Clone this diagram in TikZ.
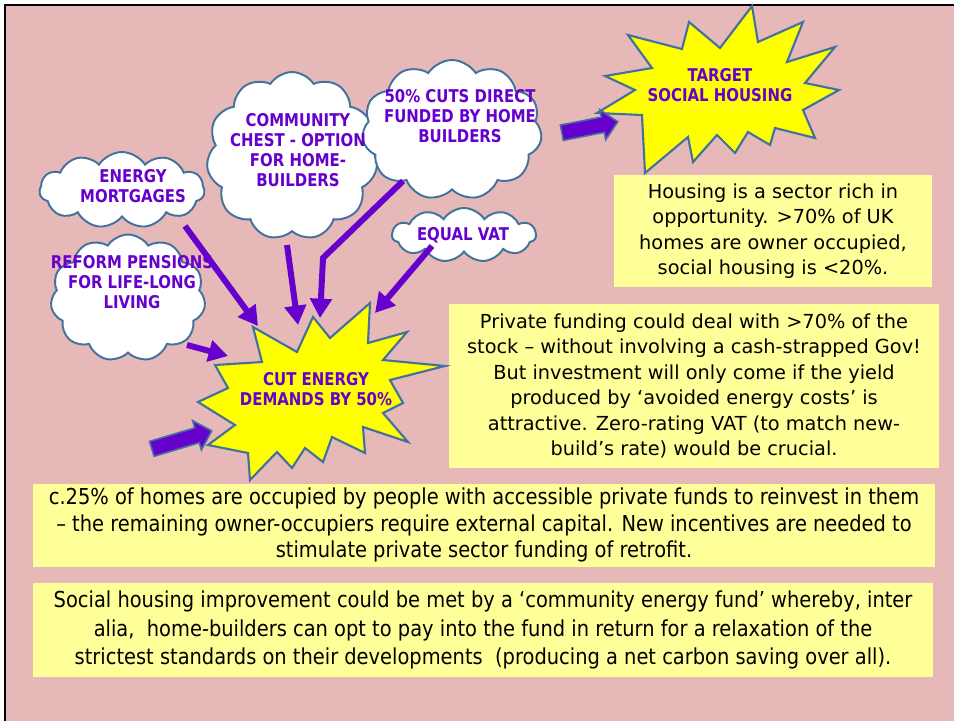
\documentclass[tikz,border=0pt]{standalone}
\usepackage{fontspec}
\setmainfont{DejaVu Sans}
\newfontfamily\cloudfont[FakeStretch=0.85]{DejaVu Sans}
\newfontfamily\narrowfont[FakeStretch=0.885]{DejaVu Sans}
\usetikzlibrary{shapes.symbols,shapes.arrows,arrows.meta}

\definecolor{bgpink}{HTML}{E6B8B7}
\definecolor{notebg}{HTML}{FFFF99}
\definecolor{burst}{HTML}{FFFF00}
\definecolor{edgeblue}{HTML}{41719C}
\definecolor{ideapurple}{HTML}{6600CC}

\tikzset{
  idea/.style={cloud, cloud puffs=11, cloud puff arc=115, cloud ignores aspect,
    draw=edgeblue, fill=white, line width=1.1pt, inner sep=0pt},
  idealabel/.style={align=center, text=ideapurple, inner sep=0pt,
    font=\cloudfont\bfseries\fontsize{10}{11.3}\selectfont},
  burstshape/.style={draw=edgeblue, fill=burst, line width=1.2pt, line join=miter},
  note/.style={fill=notebg, align=center, inner sep=0pt,
    font=\fontsize{11}{14.5}\selectfont},
  widenote/.style={note, font=\narrowfont\fontsize{12.5}{15.3}\selectfont},
  push/.style={draw=ideapurple, line width=3.4pt, -{Triangle[length=11pt,width=12pt]}},
  fatarrow/.style={single arrow, draw=edgeblue, fill=ideapurple, line width=0.9pt,
    inner xsep=0pt, inner ysep=0.14cm, single arrow head extend=0.15cm,
    single arrow head indent=0pt}
}

\begin{document}
\begin{tikzpicture}[x=0.02cm, y=-0.02cm]
  % page and frame
  \useasboundingbox (0,0) rectangle (954,721);
  \fill[white] (0,0) rectangle (954,721);
  \fill[bgpink] (5,5) rectangle (954,721);
  \draw[line width=1.6pt] (5,721) -- (5,5) -- (954,5);

  % text boxes
  \node[note, minimum width=6.36cm, minimum height=2.24cm] (sector) at (773,231)
    {Housing is a sector rich in\\opportunity. >70\% of UK\\homes are owner occupied,\\social housing is <20\%.};
  \node[note, minimum width=9.82cm, minimum height=3.28cm] (private) at (694,386)
    {Private funding could deal with >70\% of the\\stock – without involving a cash-strapped Gov!\\But investment will only come if the yield\\produced by ‘avoided energy costs’ is\\attractive. Zero-rating VAT (to match new-\\build’s rate) would be crucial.};
  \node[widenote, minimum width=18.04cm, minimum height=1.66cm] (funds) at (484,525)
    {c.25\% of homes are occupied by people with accessible private funds to reinvest in them\\– the remaining owner-occupiers require external capital. New incentives are needed to\\stimulate private sector funding of retrofit.};
  \node[widenote, minimum width=18cm, minimum height=1.88cm,
    font=\narrowfont\fontsize{12.5}{16.4}\selectfont] (fund) at (483,630)
    {Social housing improvement could be met by a ‘community energy fund’ whereby, inter\\alia,\ \ home-builders can opt to pay into the fund in return for a relaxation of the\\strictest standards on their developments\ \ (producing a net carbon saving over all).};

  % clouds
  \node[idea, minimum width=3.3cm, minimum height=1.52cm] (mort) at (122,190) {};
  \node[idea, minimum width=3.1cm, minimum height=2.54cm] (pens) at (128,298) {};
  \node[idea, minimum width=3.42cm, minimum height=3.36cm] (chest) at (292,156) {};
  \node[idea, minimum width=3.6cm, minimum height=2.8cm] (cuts) at (452,130) {};
  \node[idea, minimum width=2.88cm, minimum height=1.08cm] (vat) at (464,235) {};
  \node[idealabel] (mortText) at (133,186) {ENERGY\\MORTGAGES};
  \node[idealabel] (pensText) at (132,282) {REFORM PENSIONS\\FOR LIFE-LONG\\LIVING};
  \node[idealabel] (chestText) at (298,150) {COMMUNITY\\CHEST - OPTION\\FOR HOME-\\BUILDERS};
  \node[idealabel] (cutsText) at (460,116) {50\% CUTS DIRECT\\FUNDED BY HOME\\BUILDERS};
  \node[idealabel] (vatText) at (463,235) {EQUAL VAT};

  % bursts
  \draw[burstshape] (752,6) -- (758,42) -- (803,22) -- (787,62) -- (835,47) -- (805,83)
    -- (839,90) -- (803,110) -- (815,138) -- (775,128) -- (770,145) -- (748,132)
    -- (735,153) -- (717,135) -- (693,162) -- (688,137) -- (645,173) -- (642,115)
    -- (597,113) -- (635,90) -- (605,76) -- (652,68) -- (628,35) -- (682,49)
    -- (689,22) -- (720,48) -- cycle;
  \draw[burstshape] (253,327) -- (297,352) -- (313,317) -- (330,338) -- (370,303)
    -- (368,343) -- (407,332) -- (383,360) -- (445,366) -- (390,380) -- (403,403)
    -- (383,413) -- (408,442) -- (363,427) -- (365,453) -- (332,437) -- (323,462)
    -- (305,448) -- (292,468) -- (277,452) -- (250,480) -- (248,453) -- (208,445)
    -- (235,425) -- (198,402) -- (228,388) -- (215,365) -- (262,362) -- cycle;
  \node[idealabel] (target) at (720,85) {TARGET\\SOCIAL HOUSING};
  \node[idealabel] (cut) at (316,389) {CUT ENERGY\\DEMANDS BY 50\%};

  % arrow ends
  \coordinate (mortTail) at (185,226);
  \coordinate (mortHead) at (258,326);
  \coordinate (chestTail) at (287,245);
  \coordinate (chestHead) at (298,325);
  \coordinate (cutsTail) at (403,181);
  \coordinate (cutsBend) at (323,258);
  \coordinate (cutsHead) at (320,318);
  \coordinate (vatTail) at (432,246);
  \coordinate (vatHead) at (375,313);
  \coordinate (pensTail) at (187,345);
  \coordinate (pensHead) at (228,356);

  \draw[push] (mortTail) -- (mortHead);
  \draw[push] (chestTail) -- (chestHead);
  \draw[push] (cutsTail) -- (cutsBend) -- (cutsHead);
  \draw[push] (vatTail) -- (vatHead);
  \draw[push] (pensTail) -- (pensHead);

  \node[fatarrow, minimum height=1.25cm, rotate=16.7] (leftPush) at (178,441) {};
  \node[fatarrow, minimum height=1.14cm, rotate=11.1] (targetPush) at (586,128) {};
\end{tikzpicture}
\end{document}
